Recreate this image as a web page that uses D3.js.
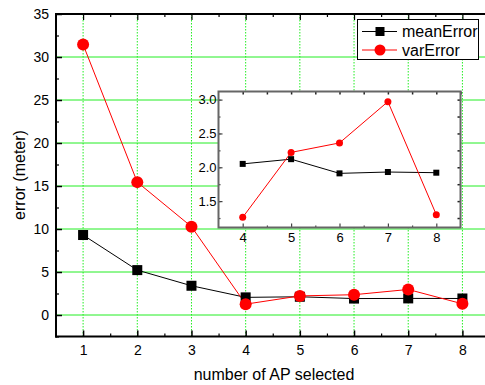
<!DOCTYPE html>
<html>
<head>
<meta charset="utf-8">
<script src="https://cdn.jsdelivr.net/npm/d3@7"></script>
<style>
  body { margin: 0; background: #fff; }
  svg { display: block; font-family: "Liberation Sans", Arial, sans-serif; }
</style>
</head>
<body>
<div id="chart"></div>
<script>
// chart data
var apCounts = [1, 2, 3, 4, 5, 6, 7, 8];
var meanError = [9.3, 5.22, 3.4, 2.05, 2.12, 1.91, 1.93, 1.92];
var varError = [31.45, 15.45, 10.27, 1.26, 2.22, 2.36, 2.97, 1.3];
var mainYTicks = [0, 5, 10, 15, 20, 25, 30, 35];
var insetYTicks = [1.5, 2.0, 2.5, 3.0];
var insetCounts = [4, 5, 6, 7, 8];

var width = 485, height = 385;

var svg = d3.select('#chart').append('svg')
  .attr('width', width)
  .attr('height', height);

// main plot
var x = d3.scaleLinear().domain([0.5, 8.5]).range([56, 489.5]);
var y = d3.scaleLinear().domain([-2.5, 35]).range([336.5, 14]);

var main = svg.append('g');

// grid: solid horizontal, dotted vertical
main.selectAll('.hgrid')
  .data(mainYTicks.filter(function (d) { return d < 35; }))
  .enter().append('line')
  .attr('x1', x(0.5)).attr('x2', x(8.5))
  .attr('y1', function (d) { return y(d); })
  .attr('y2', function (d) { return y(d); })
  .attr('stroke', '#22ee22').attr('stroke-width', 1);

main.selectAll('.vgrid')
  .data(apCounts)
  .enter().append('line')
  .attr('x1', function (d) { return x(d); })
  .attr('x2', function (d) { return x(d); })
  .attr('y1', y(35)).attr('y2', y(-2.5))
  .attr('stroke', '#22ee22').attr('stroke-width', 1)
  .attr('stroke-dasharray', '1.5,1.5');

// axes with inward ticks
var leftAxis = d3.axisLeft(y).tickValues(mainYTicks).tickSize(-6).tickPadding(7);
var leftMinor = d3.axisLeft(y).tickValues(d3.range(-2.5, 35, 5)).tickSize(-3).tickFormat('');
var bottomAxis = d3.axisBottom(x).tickValues(apCounts).tickSize(-6).tickPadding(9)
  .tickFormat(d3.format('d'));
var bottomMinor = d3.axisBottom(x).tickValues(d3.range(1.5, 8.5, 1)).tickSize(-3).tickFormat('');
var topAxis = d3.axisTop(x).tickValues(apCounts).tickSize(-6).tickFormat('');
var topMinor = d3.axisTop(x).tickValues(d3.range(1.5, 8.5, 1)).tickSize(-3).tickFormat('');

function styleAxis(g, color, width) {
  g.select('.domain').remove();
  g.selectAll('line').attr('stroke', color).attr('stroke-width', width);
  g.selectAll('text').attr('fill', '#000');
}

main.append('g').attr('transform', 'translate(56,0)').call(leftAxis)
  .call(function (g) { styleAxis(g, '#000', 1.5); })
  .selectAll('text').attr('font-size', 14);
main.append('g').attr('transform', 'translate(56,0)').call(leftMinor)
  .call(function (g) { styleAxis(g, '#000', 1.2); });
main.append('g').attr('transform', 'translate(0,336.5)').call(bottomAxis)
  .call(function (g) { styleAxis(g, '#000', 1.5); })
  .selectAll('text').attr('font-size', 14);
main.append('g').attr('transform', 'translate(0,336.5)').call(bottomMinor)
  .call(function (g) { styleAxis(g, '#000', 1.2); });
main.append('g').attr('transform', 'translate(0,14)').call(topAxis)
  .call(function (g) { styleAxis(g, '#000', 1.2); });
main.append('g').attr('transform', 'translate(0,14)').call(topMinor)
  .call(function (g) { styleAxis(g, '#000', 1.2); });

// frame
main.append('line').attr('x1', 56).attr('x2', 56).attr('y1', 14).attr('y2', 337.5)
  .attr('stroke', '#000').attr('stroke-width', 2);
main.append('line').attr('x1', 55).attr('x2', 490).attr('y1', 336.5).attr('y2', 336.5)
  .attr('stroke', '#000').attr('stroke-width', 2);
main.append('line').attr('x1', 55).attr('x2', 490).attr('y1', 14).attr('y2', 14)
  .attr('stroke', '#000').attr('stroke-width', 2);

// series
var lineMain = function (vals) {
  return d3.line()
    .x(function (d, i) { return x(apCounts[i]); })
    .y(function (d) { return y(d); })(vals);
};

main.append('path').attr('d', lineMain(meanError))
  .attr('fill', 'none').attr('stroke', '#000').attr('stroke-width', 1);
main.append('path').attr('d', lineMain(varError))
  .attr('fill', 'none').attr('stroke', '#ff0000').attr('stroke-width', 1);

main.selectAll('.msq').data(meanError).enter().append('rect')
  .attr('x', function (d, i) { return x(apCounts[i]) - 5; })
  .attr('y', function (d) { return y(d) - 5; })
  .attr('width', 10).attr('height', 10).attr('fill', '#000');
main.selectAll('.vci').data(varError).enter().append('circle')
  .attr('cx', function (d, i) { return x(apCounts[i]); })
  .attr('cy', function (d) { return y(d); })
  .attr('r', 6).attr('fill', '#ff0000');

// axis titles
svg.append('text')
  .attr('transform', 'translate(25,175) rotate(-90)')
  .attr('text-anchor', 'middle')
  .attr('font-size', 16)
  .text('error (meter)');
svg.append('text')
  .attr('x', 274).attr('y', 380)
  .attr('text-anchor', 'middle')
  .attr('font-size', 16)
  .text('number of AP selected');

// legend
var legend = svg.append('g');
legend.append('rect')
  .attr('x', 357.5).attr('y', 19.5).attr('width', 121).attr('height', 40)
  .attr('fill', '#fff').attr('stroke', '#000').attr('stroke-width', 1);
var legendItems = [
  {name: 'meanError', color: '#000', shape: 'square', y: 31.5},
  {name: 'varError', color: '#ff0000', shape: 'circle', y: 50}
];
legendItems.forEach(function (it) {
  legend.append('line')
    .attr('x1', 362).attr('x2', 397).attr('y1', it.y).attr('y2', it.y)
    .attr('stroke', it.color).attr('stroke-width', 1);
  if (it.shape === 'square') {
    legend.append('rect').attr('x', 375.5).attr('y', it.y - 4.5)
      .attr('width', 9).attr('height', 9).attr('fill', it.color);
  } else {
    legend.append('circle').attr('cx', 380).attr('cy', it.y).attr('r', 5.5)
      .attr('fill', it.color);
  }
  legend.append('text')
    .attr('x', 402).attr('y', it.y + 5.5)
    .attr('font-size', 16)
    .text(it.name);
});

// inset
var ix = d3.scaleLinear().domain([3.5, 8.5]).range([218.5, 460.5]);
var iy = d3.scaleLinear().domain([1.11, 3.12]).range([227.5, 91.5]);

var inset = svg.append('g');
inset.append('rect')
  .attr('x', 218.5).attr('y', 91.5).attr('width', 242).attr('height', 136)
  .attr('fill', '#fff');

var iLeft = d3.axisLeft(iy).tickValues(insetYTicks).tickSize(-4).tickPadding(2)
  .tickFormat(d3.format('.1f'));
var iLeftMinor = d3.axisLeft(iy).tickValues(d3.range(1.25, 3.1, 0.25)).tickSize(-2).tickFormat('');
var iRight = d3.axisRight(iy).tickValues(d3.range(1.25, 3.1, 0.25)).tickSize(-3).tickFormat('');
var iBottom = d3.axisBottom(ix).tickValues(insetCounts).tickSize(-4).tickPadding(5)
  .tickFormat(d3.format('d'));
var iBottomMinor = d3.axisBottom(ix).tickValues(d3.range(4.5, 8.5, 1)).tickSize(-2).tickFormat('');
var iTop = d3.axisTop(ix).tickValues(d3.range(4, 8.6, 0.5)).tickSize(-3).tickFormat('');

inset.append('g').attr('transform', 'translate(218.5,0)').call(iLeft)
  .call(function (g) { styleAxis(g, '#444', 1.2); })
  .selectAll('text').attr('font-size', 13);
inset.append('g').attr('transform', 'translate(218.5,0)').call(iLeftMinor)
  .call(function (g) { styleAxis(g, '#444', 1.2); });
inset.append('g').attr('transform', 'translate(460.5,0)').call(iRight)
  .call(function (g) { styleAxis(g, '#222', 1.5); });
inset.append('g').attr('transform', 'translate(0,227.5)').call(iBottom)
  .call(function (g) { styleAxis(g, '#444', 1.2); })
  .selectAll('text').attr('font-size', 13);
inset.append('g').attr('transform', 'translate(0,227.5)').call(iBottomMinor)
  .call(function (g) { styleAxis(g, '#444', 1.2); });
inset.append('g').attr('transform', 'translate(0,91.5)').call(iTop)
  .call(function (g) { styleAxis(g, '#222', 1.5); });

inset.append('rect')
  .attr('x', 218.5).attr('y', 91.5).attr('width', 242).attr('height', 136)
  .attr('fill', 'none').attr('stroke', '#666').attr('stroke-width', 2);

var insetMean = meanError.slice(3);
var insetVar = varError.slice(3);
var lineInset = function (vals) {
  return d3.line()
    .x(function (d, i) { return ix(insetCounts[i]); })
    .y(function (d) { return iy(d); })(vals);
};

inset.append('path').attr('d', lineInset(insetMean))
  .attr('fill', 'none').attr('stroke', '#000').attr('stroke-width', 1);
inset.append('path').attr('d', lineInset(insetVar))
  .attr('fill', 'none').attr('stroke', '#ff0000').attr('stroke-width', 1);
inset.selectAll('.isq').data(insetMean).enter().append('rect')
  .attr('x', function (d, i) { return ix(insetCounts[i]) - 3; })
  .attr('y', function (d) { return iy(d) - 3; })
  .attr('width', 6).attr('height', 6).attr('fill', '#000');
inset.selectAll('.ici').data(insetVar).enter().append('circle')
  .attr('cx', function (d, i) { return ix(insetCounts[i]); })
  .attr('cy', function (d) { return iy(d); })
  .attr('r', 3.5).attr('fill', '#ff0000');
</script>
</body>
</html>
